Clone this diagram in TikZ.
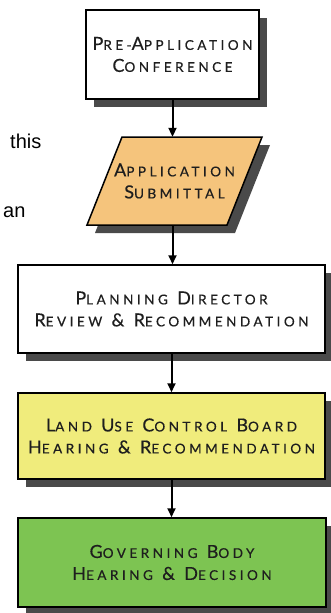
\documentclass[tikz,border=0pt]{standalone}
\usepackage{fontspec}
\setmainfont{Liberation Sans}
\newfontfamily\boxfont[LetterSpace=26,FakeBold=0.4]{Lato}
\usetikzlibrary{arrows.meta,shadows}
\definecolor{shadowgray}{HTML}{4A4A4A}
\definecolor{orangefill}{HTML}{F5C47C}
\definecolor{yellowfill}{HTML}{F0EC7C}
\definecolor{greenfill}{HTML}{7DC452}
\definecolor{txt}{HTML}{1E1E1E}
\newcommand\Bg[1]{{\fontsize{18}{22}\selectfont #1}}
\newcommand\Sm[1]{{\fontsize{13.5}{22}\selectfont #1}}
\begin{document}
\begin{tikzpicture}[x=1pt,y=-1pt,
  stepbox/.style={draw=black, line width=1.5pt, align=center, text=txt,
    font=\boxfont\fontsize{18}{22}\selectfont, inner sep=0pt,
    general shadow={fill=shadowgray, shadow xshift=8pt, shadow yshift=-8pt}},
  textbox/.style={align=center, text=txt, font=\boxfont\fontsize{18}{22}\selectfont, inner sep=0pt},
  flow/.style={-{Triangle[length=9pt,width=8pt]}, line width=2pt},
  side/.style={font=\fontsize{20}{24}\selectfont, anchor=base west, inner sep=0pt}]
\useasboundingbox (0,0) rectangle (330,613);
% box 1
\node[stepbox, fill=white, minimum width=173pt, minimum height=89pt] (pre) at (172.5,54.5)
  {\Bg{P}\Sm{RE-}\Bg{A}\Sm{PPLICATION}\\\Bg{C}\Sm{ONFERENCE}};
% parallelogram
\fill[shadowgray] (130,145) -- (270,145) -- (235,233) -- (95,233) -- cycle;
\filldraw[fill=orangefill, draw=black, line width=1.5pt]
  (122,137) -- (262,137) -- (227,225) -- (87,225) -- cycle;
\node[textbox, minimum width=140pt, minimum height=88pt] (sub) at (174.5,181)
  {\Bg{A}\Sm{PPLICATION}\\\Bg{S}\Sm{UBMITTAL}};
% box 3
\node[stepbox, fill=white, minimum width=307pt, minimum height=88pt] (pdr) at (171.5,309)
  {\Bg{P}\Sm{LANNING} \Bg{D}\Sm{IRECTOR}\\\Bg{R}\Sm{EVIEW} \Bg{\&} \Bg{R}\Sm{ECOMMENDATION}};
% box 4
\node[stepbox, fill=yellowfill, minimum width=307pt, minimum height=86pt] (luc) at (171.5,436)
  {\Bg{L}\Sm{AND} \Bg{U}\Sm{SE} \Bg{C}\Sm{ONTROL} \Bg{B}\Sm{OARD}\\\Bg{H}\Sm{EARING} \Bg{\&} \Bg{R}\Sm{ECOMMENDATION}};
% box 5
\node[stepbox, fill=greenfill, minimum width=308pt, minimum height=89pt] (gov) at (172,562.5)
  {\Bg{G}\Sm{OVERNING} \Bg{B}\Sm{ODY}\\\Bg{H}\Sm{EARING} \Bg{\&} \Bg{D}\Sm{ECISION}};
% connectors
\draw[flow] (pre.south) -- (pre.south |- sub.north);
\draw[flow] (pre.south |- sub.south) -- (pre.south |- pdr.north);
\draw[flow] (pdr.south) -- (pdr.south |- luc.north);
\draw[flow] (luc.south) -- (luc.south |- gov.north);
% side texts
\node[side] (this) at (10,148) {this};
\node[side] (an) at (3,217) {an};
\end{tikzpicture}
\end{document}
